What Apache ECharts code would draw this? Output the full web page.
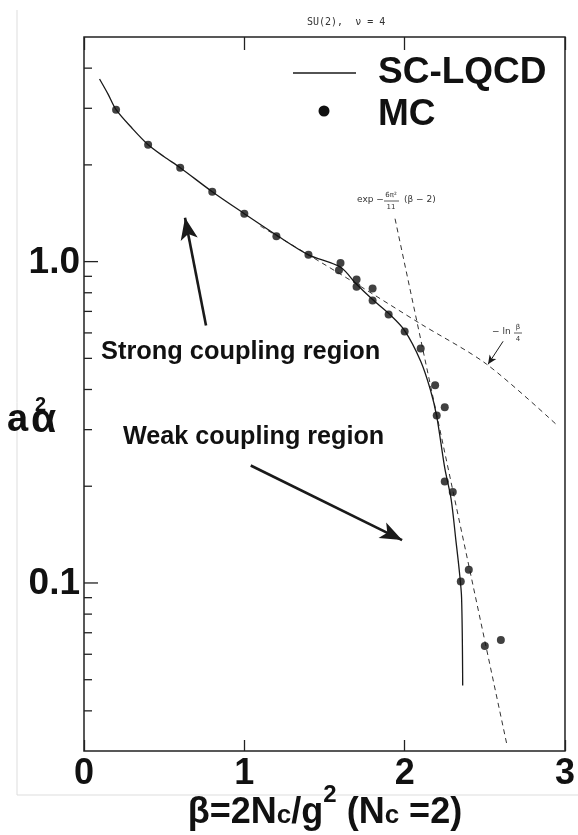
<!DOCTYPE html>
<html><head><meta charset="utf-8">
<script src="https://cdn.jsdelivr.net/npm/echarts@6/dist/echarts.min.js"></script>
<style>html,body{margin:0;padding:0;background:#fff}#c{width:578px;height:835px}</style>
</head><body><div id="c"></div>
<script>
// ---- data ----
const xTicks = [0, 1, 2, 3];
const yMajorTicks = [1, 0.1];
const yMajorLabels = ['1.0', '0.1'];
const yMinorTicks = [4, 3, 2, 0.9, 0.8, 0.7, 0.6, 0.5, 0.4, 0.3, 0.2, 0.09, 0.08, 0.07, 0.06, 0.05, 0.04];

// Monte Carlo points (beta, a^2 alpha)
const mcBeta = [0.20, 0.40, 0.60, 0.80, 1.00, 1.20, 1.40, 1.60, 1.59, 1.70, 1.70, 1.80, 1.80, 1.90, 2.00, 2.10, 2.19, 2.25, 2.20, 2.25, 2.30, 2.40, 2.35, 2.50, 2.60];
const mcVal  = [2.97, 2.31, 1.96, 1.65, 1.41, 1.20, 1.05, 0.99, 0.94, 0.88, 0.835, 0.825, 0.757, 0.684, 0.606, 0.537, 0.412, 0.352, 0.332, 0.207, 0.192, 0.110, 0.101, 0.0637, 0.0665];

// SC-LQCD curve
const scBeta = [0.097, 0.15, 0.20, 0.30, 0.40, 0.50, 0.60, 0.80, 1.00, 1.20, 1.40, 1.60, 1.70, 1.80, 1.90, 2.00, 2.10, 2.16, 2.20, 2.25, 2.29, 2.32, 2.34, 2.355, 2.362];
const scVal  = [3.70, 3.32, 2.97, 2.60, 2.31, 2.12, 1.96, 1.65, 1.41, 1.21, 1.05, 0.96, 0.85, 0.762, 0.69, 0.61, 0.49, 0.40, 0.33, 0.228, 0.182, 0.135, 0.11, 0.09, 0.048];

const expBeta = [1.94, 2.64];
const expVal  = [1.36, 0.031];

// -ln(beta/4) dashed line
const lnBeta = [1.10, 1.40, 1.72, 2.10, 2.51, 2.95];
const lnVal  = [1.29, 1.05, 0.84, 0.64, 0.48, 0.31];

// annotation arrows in data coordinates [from, to]
const arrowStrong = [[0.761, 0.633], [0.63, 1.37]];
const arrowWeak   = [[1.04, 0.232], [1.984, 0.136]];
const arrowLn     = [[2.614, 0.565], [2.52, 0.479]];

const pairs = (xs, ys) => xs.map((x, i) => [x, ys[i]]);
const FONT = '"Liberation Sans", Arial, sans-serif';
const INK = '#1a1a1a';

const chart = echarts.init(document.getElementById('c'), null, {renderer: 'canvas'});

function arrow(a, w, size) {
  return [
    {coord: a[0], symbol: 'none', lineStyle: {width: w, color: INK, type: 'solid'}},
    {coord: a[1], symbol: 'arrow', symbolSize: size}
  ];
}

const option = {
  animation: false,
  backgroundColor: '#fff',
  title: {
    text: 'SU(2),  \u03BD = 4',
    left: 302, top: 12,
    textStyle: {fontSize: 10, fontWeight: 'normal', color: '#333', fontFamily: '"DejaVu Sans Mono", monospace'}
  },
  grid: {left: 84, top: 37, width: 481, height: 714, show: true, borderColor: '#222', borderWidth: 1.5, containLabel: false},
  xAxis: [{
    type: 'value', min: 0, max: 3, interval: 1, position: 'bottom',
    axisLine: {show: false},
    axisTick: {show: true, inside: true, length: 11, lineStyle: {color: '#222', width: 1.3}},
    axisLabel: {show: true, margin: 5, fontSize: 36, fontWeight: 'bold', color: '#111', fontFamily: FONT,
      formatter: v => xTicks.indexOf(v) >= 0 ? String(v) : ''},
    splitLine: {show: false}
  }, {
    type: 'value', min: 0, max: 3, interval: 1, position: 'top',
    axisLine: {show: false},
    axisTick: {show: true, inside: true, length: 13, lineStyle: {color: '#222', width: 1.3}},
    axisLabel: {show: false},
    splitLine: {show: false}
  }],
  yAxis: {
    type: 'log', logBase: 10, min: 0.03, max: 5,
    axisLine: {show: false}, axisTick: {show: false}, axisLabel: {show: false}, splitLine: {show: false}
  },
  series: [
    {
      name: 'SC-LQCD', type: 'line', data: pairs(scBeta, scVal), smooth: 0.3,
      showSymbol: false, symbol: 'none', lineStyle: {color: INK, width: 1.3}, silent: true, z: 3,
      markLine: {
        silent: true, animation: false, label: {show: false}, emphasis: {disabled: true},
        lineStyle: {color: INK},
        itemStyle: {color: INK},
        data: [arrow(arrowStrong, 2.6, [13, 22]), arrow(arrowWeak, 2.6, [13, 22]), arrow(arrowLn, 1, [6, 9])]
      }
    },
    {
      name: 'exp', type: 'line', data: pairs(expBeta, expVal), showSymbol: false, symbol: 'none',
      lineStyle: {color: '#333', width: 1, type: [5, 4]}, silent: true, z: 2
    },
    {
      name: 'ln', type: 'line', data: pairs(lnBeta, lnVal), showSymbol: false, symbol: 'none', smooth: 0.3,
      lineStyle: {color: '#333', width: 1, type: [5, 4]}, silent: true, z: 2
    },
    {
      name: 'MC', type: 'scatter', data: pairs(mcBeta, mcVal), symbol: 'circle', symbolSize: 8,
      itemStyle: {color: '#111'}, silent: true, z: 4
    },
    {
      name: 'yMinor', type: 'custom', data: yMinorTicks.map(v => [0, v]), silent: true, z: 5,
      renderItem: (params, api) => {
        const p = api.coord([api.value(0), api.value(1)]);
        return {type: 'line', shape: {x1: p[0], y1: p[1], x2: p[0] + 8, y2: p[1]}, style: {stroke: '#222', lineWidth: 1.3}};
      }
    },
    {
      name: 'yMajor', type: 'custom', data: yMajorTicks.map(v => [0, v]), silent: true, z: 5,
      renderItem: (params, api) => {
        const p = api.coord([api.value(0), api.value(1)]);
        return {type: 'group', children: [
          {type: 'line', shape: {x1: p[0], y1: p[1], x2: p[0] + 14, y2: p[1]}, style: {stroke: '#222', lineWidth: 1.3}},
          {type: 'text', x: p[0] - 4, y: p[1] + 1, style: {text: yMajorLabels[params.dataIndex], fill: '#111',
            font: 'bold 37px ' + FONT, align: 'right', verticalAlign: 'middle'}}
        ]};
      }
    }
  ],
  graphic: [
    // scan border
    {type: 'line', shape: {x1: 17, y1: 10, x2: 17, y2: 795}, style: {stroke: '#ddd', lineWidth: 1}, silent: true},
    {type: 'line', shape: {x1: 17, y1: 795, x2: 578, y2: 795}, style: {stroke: '#ddd', lineWidth: 1}, silent: true},
    // legend
    {type: 'line', shape: {x1: 293, y1: 73, x2: 356, y2: 73}, style: {stroke: INK, lineWidth: 1.3}, silent: true},
    {type: 'circle', shape: {cx: 324, cy: 111, r: 5.5}, style: {fill: '#111'}, silent: true},
    {type: 'text', x: 378, y: 73, style: {text: 'SC-LQCD', font: 'bold 37px ' + FONT, fill: '#111', verticalAlign: 'middle'}, silent: true},
    {type: 'text', x: 378, y: 115, style: {text: 'MC', font: 'bold 37px ' + FONT, fill: '#111', verticalAlign: 'middle'}, silent: true},
    // region labels
    {type: 'text', x: 101, y: 352, style: {text: 'Strong coupling region', font: 'bold 25.4px ' + FONT, fill: '#111', verticalAlign: 'middle'}, silent: true},
    {type: 'text', x: 123, y: 437, style: {text: 'Weak coupling region', font: 'bold 25.2px ' + FONT, fill: '#111', verticalAlign: 'middle'}, silent: true},
    // y axis name a^2 alpha
    {type: 'text', x: 7, y: 421, style: {text: 'a', font: 'bold 38px ' + FONT, fill: '#111', verticalAlign: 'middle'}, silent: true},
    {type: 'text', x: 31, y: 421, style: {text: '\u03B1', font: 'bold 41px ' + FONT, fill: '#111', verticalAlign: 'middle'}, silent: true},
    {type: 'text', x: 35, y: 405, style: {text: '2', font: 'bold 20px ' + FONT, fill: '#111', verticalAlign: 'middle'}, silent: true},
    // x axis name
    {type: 'text', x: 325, y: 783, silent: true, style: {
      text: '{m|\u03B2=2N}{s|c}{m|/g}{p|2}{m| (N}{s|c}{m| =2)}',
      align: 'center', verticalAlign: 'top',
      rich: {
        m: {font: 'bold 36px ' + FONT, fill: '#111', lineHeight: 60, verticalAlign: 'middle'},
        s: {font: 'bold 26px ' + FONT, fill: '#111', lineHeight: 60, verticalAlign: 'middle', padding: [6, 0, 0, 0]},
        p: {font: 'bold 24px ' + FONT, fill: '#111', lineHeight: 24, verticalAlign: 'top'}
      }
    }},
    // exp annotation
    {type: 'text', x: 357, y: 200, style: {text: 'exp \u2212', font: '9px "DejaVu Sans", sans-serif', fill: '#333', verticalAlign: 'middle'}, silent: true},
    {type: 'text', x: 391, y: 195, style: {text: '6\u03C0\u00B2', font: '7px "DejaVu Sans", sans-serif', fill: '#333', align: 'center', verticalAlign: 'middle'}, silent: true},
    {type: 'line', shape: {x1: 384, y1: 201, x2: 399, y2: 201}, style: {stroke: '#333', lineWidth: 0.8}, silent: true},
    {type: 'text', x: 391, y: 207, style: {text: '11', font: '7px "DejaVu Sans", sans-serif', fill: '#333', align: 'center', verticalAlign: 'middle'}, silent: true},
    {type: 'text', x: 404, y: 200, style: {text: '(\u03B2 \u2212 2)', font: '9px "DejaVu Sans", sans-serif', fill: '#333', verticalAlign: 'middle'}, silent: true},
    // -ln beta/4 annotation
    {type: 'text', x: 492, y: 332, style: {text: '\u2212 ln', font: '9px "DejaVu Sans", sans-serif', fill: '#333', verticalAlign: 'middle'}, silent: true},
    {type: 'text', x: 518, y: 327, style: {text: '\u03B2', font: '7px "DejaVu Sans", sans-serif', fill: '#333', align: 'center', verticalAlign: 'middle'}, silent: true},
    {type: 'line', shape: {x1: 514, y1: 333, x2: 522, y2: 333}, style: {stroke: '#333', lineWidth: 0.8}, silent: true},
    {type: 'text', x: 518, y: 339, style: {text: '4', font: '7px "DejaVu Sans", sans-serif', fill: '#333', align: 'center', verticalAlign: 'middle'}, silent: true}
  ]
};
chart.setOption(option);
</script>
</body></html>
